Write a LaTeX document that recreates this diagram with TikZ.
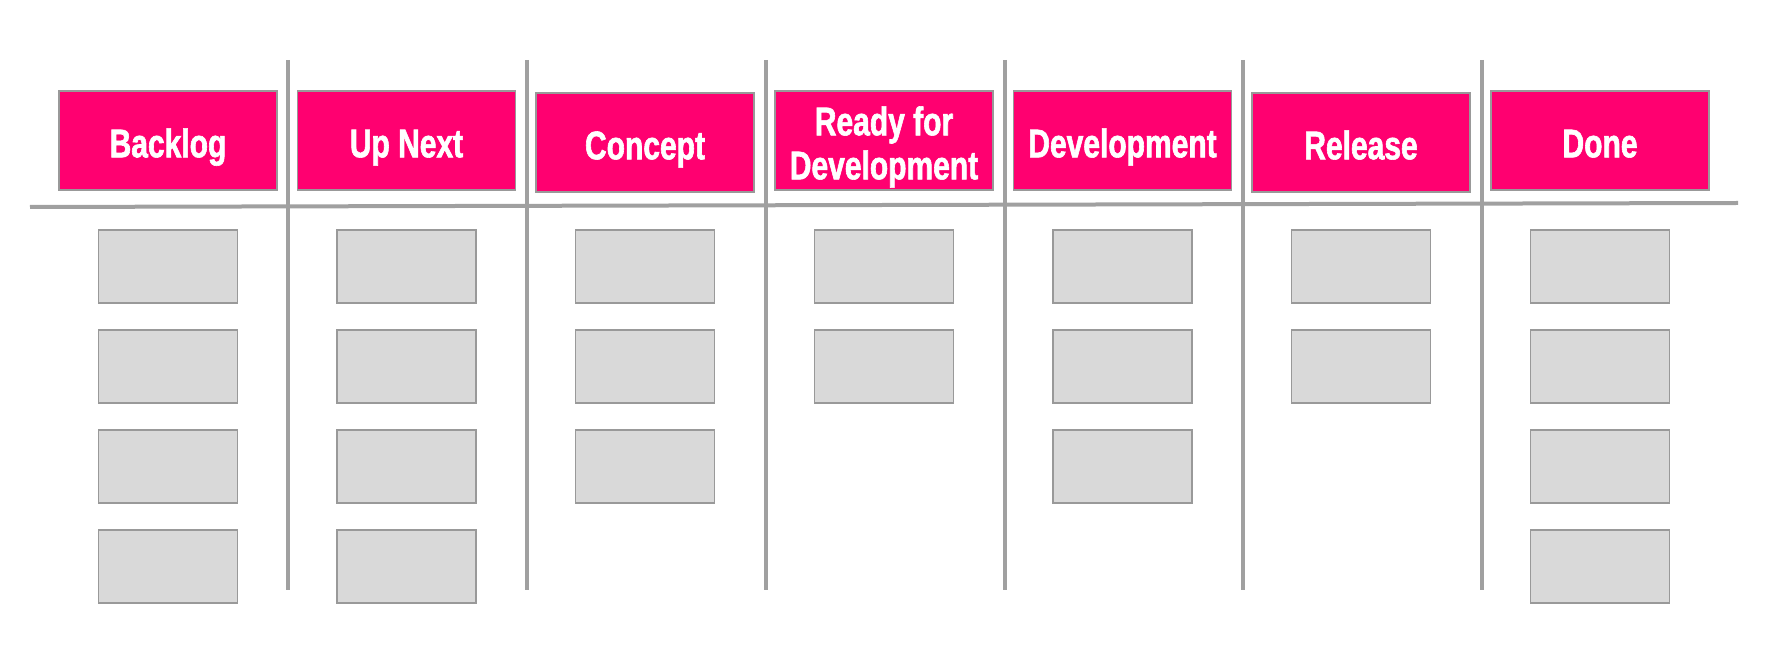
\documentclass[tikz,border=0pt]{standalone}
\usepackage{fontspec}
\newfontfamily\headfont[FakeStretch=0.75, FakeBold=1.5]{Liberation Sans}
\usetikzlibrary{positioning}
\definecolor{boardpink}{HTML}{FF0070}
\definecolor{cardgray}{HTML}{D9D9D9}
\definecolor{edgegray}{HTML}{999999}
\definecolor{rulegray}{HTML}{A0A0A0}
\newcommand{\headtext}[1]{\raisebox{-4pt}[\height][\depth]{\begin{tabular}{@{}c@{}}#1\end{tabular}}}
\tikzset{
	header/.style={rectangle, fill=boardpink, draw=edgegray, line width=0.6pt,
		minimum width=109pt, minimum height=49.5pt, outer sep=0pt, inner sep=0pt,
		text=white, font=\headfont\bfseries\fontsize{20}{22}\selectfont},
	card/.style={rectangle, fill=cardgray, draw=edgegray, line width=0.6pt,
		minimum width=69.5pt, minimum height=36.5pt, outer sep=0pt},
	boardrule/.style={draw=rulegray, line width=2pt}
}
\begin{document}
\begin{tikzpicture}[x=0.5pt, y=-0.5pt, node distance=13.5pt and 10.25pt]
	\useasboundingbox (0,0) rectangle (1770,667);

	% column rules
	\draw[boardrule]	(30,207) -- (1738,203);
	\draw[boardrule]	(288,60) -- (288,590);
	\draw[boardrule]	(527,60) -- (527,590);
	\draw[boardrule]	(766,60) -- (766,590);
	\draw[boardrule]	(1005,60) -- (1005,590);
	\draw[boardrule]	(1243,60) -- (1243,590);
	\draw[boardrule]	(1482,60) -- (1482,590);

	% headers
	\node[header]	(backlog)	at (168,140.5)	{\headtext{Backlog}};
	\node[header, right=of backlog]	(upnext)	{\headtext{Up Next}};
	\node[header, right=of upnext, yshift=-1pt]	(concept)	{\headtext{Concept}};
	\node[header, right=of upnext, xshift=119.5pt]	(ready)	{\headtext{Ready for\\Development}};
	\node[header, right=of ready]	(develop)	{\headtext{Development}};
	\node[header, right=of develop, yshift=-1pt]	(release)	{\headtext{Release}};
	\node[header, right=of develop, xshift=119.5pt]	(done)	{\headtext{Done}};

	% cards
	\node[card, below=20pt of backlog]	(backlog1)	{};
	\node[card, below=of backlog1]	(backlog2)	{};
	\node[card, below=of backlog2]	(backlog3)	{};
	\node[card, below=of backlog3]	(backlog4)	{};

	\node[card, below=20pt of upnext]	(upnext1)	{};
	\node[card, below=of upnext1]	(upnext2)	{};
	\node[card, below=of upnext2]	(upnext3)	{};
	\node[card, below=of upnext3]	(upnext4)	{};

	\node[card, below=19pt of concept]	(concept1)	{};
	\node[card, below=of concept1]	(concept2)	{};
	\node[card, below=of concept2]	(concept3)	{};

	\node[card, below=20pt of ready]	(ready1)	{};
	\node[card, below=of ready1]	(ready2)	{};

	\node[card, below=20pt of develop]	(develop1)	{};
	\node[card, below=of develop1]	(develop2)	{};
	\node[card, below=of develop2]	(develop3)	{};

	\node[card, below=19pt of release]	(release1)	{};
	\node[card, below=of release1]	(release2)	{};

	\node[card, below=20pt of done]	(done1)	{};
	\node[card, below=of done1]	(done2)	{};
	\node[card, below=of done2]	(done3)	{};
	\node[card, below=of done3]	(done4)	{};

\end{tikzpicture}
\end{document}
